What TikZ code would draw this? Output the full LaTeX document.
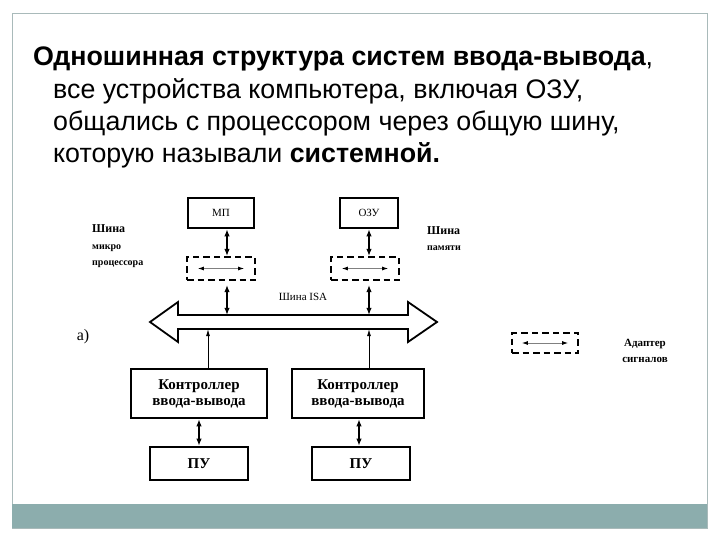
\documentclass[tikz,border=0pt]{standalone}
\usepackage{fontspec}
\setmainfont{Liberation Serif}
\newfontfamily\slidefont{Liberation Sans}
\usepackage{tikz}
\usetikzlibrary{arrows.meta,positioning}
\definecolor{bandc}{HTML}{8CADAD}
\definecolor{framec}{HTML}{A9BABA}

\begin{document}
\begin{tikzpicture}[x=1pt, y=-1pt,
    blk/.style={draw, line width=2.8pt, inner sep=0pt},
    adp/.style={draw, dash pattern=on 6.5pt off 4pt, line width=2.3pt, inner sep=0pt},
    dbl/.style={{Latex[length=7pt,width=5.5pt]}-{Latex[length=7pt,width=5.5pt]}, line width=1.1pt},
    one/.style={-{Latex[length=7pt,width=4pt]}, line width=0.8pt},
    inarr/.style={{Latex[length=6pt,width=4pt,black]}-{Latex[length=6pt,width=4pt,black]},
                  line width=0.9pt, gray},
    txt/.style={font=\slidefont\fontsize{26.8}{30}\selectfont, anchor=base west, inner sep=0pt},
    lbl/.style={font=\bfseries\fontsize{12}{14}\selectfont, anchor=base west, inner sep=0pt},
    sml/.style={font=\bfseries\fontsize{10}{12}\selectfont, anchor=base west, inner sep=0pt},
    ctl/.style={blk, align=center, font=\bfseries\fontsize{15}{16}\selectfont}
  ]
  \useasboundingbox (0,0) rectangle (720,540);
  %% --- slide frame ---
  \draw[framec, line width=0.8pt] (12,13) rectangle (707,528);
  \fill[bandc] (12,504) rectangle (707,528);

  %% --- heading ---
  \node[txt] (t1) at (33,66) {{\bfseries Одношинная структура систем ввода-вывода},};
  \node[txt] (t2) at (53,99) {все устройства компьютера, включая ОЗУ,};
  \node[txt] (t3) at (53,131) {общались с процессором через общую шину,};
  \node[txt] (t4) at (53,163) {которую называли {\bfseries системной.}};

  %% --- processor and memory ---
  \node[blk, minimum width=66, minimum height=30, font=\fontsize{11}{13}\selectfont] (mp) at (221,213) {МП};
  \node[blk, minimum width=58, minimum height=30, font=\fontsize{11}{13}\selectfont] (ozu) at (369,213) {ОЗУ};
  % Adapters
  \node[adp, minimum width=68, minimum height=23] (adl) at (221,268.5) {};
  \node[adp, minimum width=68, minimum height=23] (adr) at (365,268.5) {};
  \draw[inarr] ([xshift=12pt]adl.west) -- ([xshift=-12pt]adl.east);
  \draw[inarr] ([xshift=12pt]adr.west) -- ([xshift=-12pt]adr.east);
  % Bus labels
  \node[lbl] (lmp1) at (92,233) {Шина};
  \node[sml] (lmp2) at (92,249) {микро};
  \node[sml] (lmp3) at (92,265) {процессора};
  \node[lbl] (lmem1) at (427,235) {Шина};
  \node[sml] (lmem2) at (427,250) {памяти};

  %% --- ISA bus ---
  \node[minimum width=229, minimum height=14, inner sep=0pt] (bus) at (293,322) {};
  \draw[line width=1.8pt, line join=miter]
    (150,322) -- (178,302) -- (178,315) -- (408,315) -- (408,302) -- (437,322)
    -- (408,342) -- (408,329) -- (178,329) -- (178,342) -- cycle;
  \node[font=\fontsize{11}{13}\selectfont] (lisa) at (303,297) {Шина ISA};
  \node[font=\fontsize{16}{18}\selectfont] (la) at (83,337) {а)};

  %% --- controllers and devices ---
  \node[ctl, minimum width=136, minimum height=49] (iol) at (199,393.5) {Контроллер\\ввода-вывода};
  \node[ctl, minimum width=132, minimum height=49] (ior) at (358,393.5) {Контроллер\\ввода-вывода};
  \node[blk, minimum width=98, minimum height=33, font=\bfseries\fontsize{15}{16}\selectfont] (pul) at (199,463.5) {ПУ};
  \node[blk, minimum width=98, minimum height=33, font=\bfseries\fontsize{15}{16}\selectfont] (pur) at (361,463.5) {ПУ};

  %% --- legend ---
  \node[adp, minimum width=66, minimum height=20] (adk) at (545,343) {};
  \draw[inarr] ([xshift=11pt]adk.west) -- ([xshift=-11pt]adk.east);
  \node[align=center, font=\bfseries\fontsize{11}{16}\selectfont] (ladk) at (645,351) {Адаптер\\сигналов};

  %% --- connectors ---
  \coordinate (c1) at (227,0);
  \coordinate (c2) at (369,0);
  \coordinate (c3) at (208,0);
  \coordinate (c4) at (199,0);
  \coordinate (c5) at (359,0);
  \draw[dbl] (mp.south -| c1) -- (adl.north -| c1);
  \draw[dbl] (ozu.south -| c2) -- (adr.north -| c2);
  \draw[dbl, shorten <=4pt] (adl.south -| c1) -- (bus.north -| c1);
  \draw[dbl, shorten <=4pt] (adr.south -| c2) -- (bus.north -| c2);
  \draw[one] (iol.north -| c3) -- (bus.south -| c3);
  \draw[one] (ior.north -| c2) -- (bus.south -| c2);
  \draw[dbl] (iol.south -| c4) -- (pul.north -| c4);
  \draw[dbl] (ior.south -| c5) -- (pur.north -| c5);
\end{tikzpicture}
\end{document}
